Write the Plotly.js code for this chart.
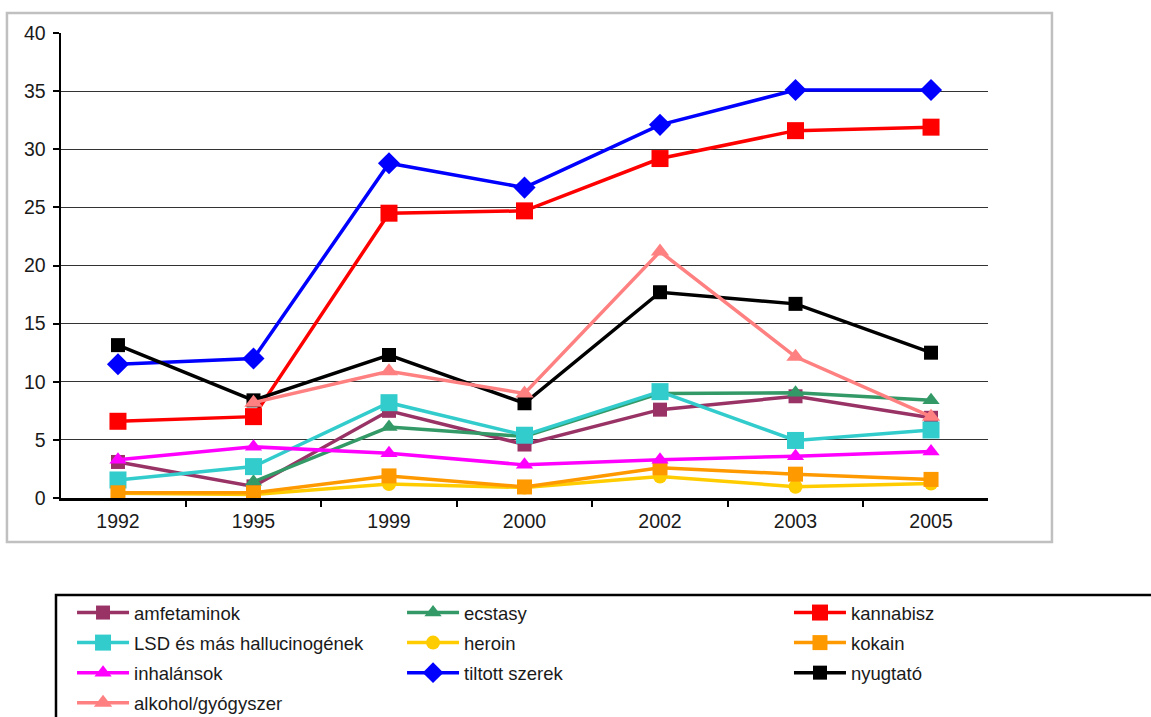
<!DOCTYPE html>
<html>
<head>
<meta charset="utf-8">
<script src="https://cdn.plot.ly/plotly-3.0.1.min.js"></script>
<style>html,body{margin:0;padding:0;background:#fff;}#chart{width:1151px;height:717px;}</style>
</head>
<body>
<div id="chart"></div>
<script>
var years = ['1992', '1995', '1999', '2000', '2002', '2003', '2005'];
var amfetaminok = [3.1, 1.0, 7.5, 4.6, 7.6, 8.75, 6.9];
var ecstasy = [null, 1.4, 6.1, 5.3, 9.0, 9.05, 8.4];
var kannabisz = [6.6, 7.0, 24.5, 24.7, 29.2, 31.6, 31.9];
var lsd = [1.55, 2.7, 8.2, 5.4, 9.15, 4.95, 5.85];
var heroin = [0.4, 0.3, 1.2, 0.9, 1.85, 0.97, 1.25];
var kokain = [0.45, 0.45, 1.9, 0.95, 2.6, 2.05, 1.6];
var inhalansok = [3.3, 4.4, 3.85, 2.85, 3.3, 3.6, 4.0];
var tiltott = [11.5, 12.0, 28.8, 26.7, 32.1, 35.1, 35.1];
var nyugtato = [13.15, 8.4, 12.3, 8.15, 17.7, 16.7, 12.5];
var alkohol = [null, 8.2, 10.9, 9.0, 21.2, 12.15, 7.0];

var seriesNames = ['amfetaminok', 'ecstasy', 'kannabisz', 'LSD és más hallucinogének', 'heroin', 'kokain', 'inhalánsok', 'tiltott szerek', 'nyugtató', 'alkohol/gyógyszer'];
var seriesValues = [amfetaminok, ecstasy, kannabisz, lsd, heroin, kokain, inhalansok, tiltott, nyugtato, alkohol];
var seriesColors = ['#993366', '#339966', '#FF0000', '#33CCCC', '#FFCC00', '#FF9900', '#FF00FF', '#0000FF', '#000000', '#FF8080'];
var seriesSymbols = ['square', 'triangle-up', 'square', 'square', 'circle', 'square', 'triangle-up', 'diamond', 'square', 'triangle-up'];
var seriesSizes = [14, 15, 17, 17, 14, 15, 15, 17, 14, 16];
var seriesLegend = ['legend', 'legend2', 'legend3', 'legend', 'legend2', 'legend3', 'legend', 'legend2', 'legend3', 'legend'];

var traces = seriesNames.map(function (name, i) {
  return {
    type: 'scatter',
    mode: 'lines+markers',
    x: years,
    y: seriesValues[i],
    name: name,
    legend: seriesLegend[i],
    legendgroup: 'g' + i,
    line: {color: seriesColors[i], width: 3.5},
    marker: {color: seriesColors[i], symbol: seriesSymbols[i], size: seriesSizes[i]},
    connectgaps: false
  };
});

var font = {family: '"Liberation Sans", Arial, sans-serif', color: '#1a1a1a'};
var legendBase = {
  orientation: 'v', xref: 'paper', yref: 'paper', xanchor: 'left', yanchor: 'top',
  y: -0.2065, bgcolor: 'rgba(0,0,0,0)', borderwidth: 0, itemwidth: 52, tracegroupgap: 3,
  font: {family: font.family, size: 18.5, color: '#1a1a1a'}
};
function lg(x) { var o = Object.assign({}, legendBase); o.x = x; return o; }

var layout = {
  width: 1151, height: 717,
  margin: {l: 61, r: 163, t: 33, b: 219, autoexpand: false},
  paper_bgcolor: '#ffffff', plot_bgcolor: '#ffffff',
  font: {family: font.family, size: 19, color: font.color},
  showlegend: true,
  legend: lg(0.0119),
  legend2: lg(0.3679),
  legend3: lg(0.7853),
  xaxis: {
    type: 'category', tickson: 'boundaries', ticks: 'outside', ticklen: 6, tickwidth: 2, tickcolor: '#000',
    showline: true, linecolor: '#000', linewidth: 2.5, showgrid: false, zeroline: false,
    tickfont: {size: 19.5}, ticklabelstandoff: 4
  },
  yaxis: {
    range: [0, 40], dtick: 5, ticks: 'outside', ticklen: 6, tickwidth: 2, tickcolor: '#000',
    showline: true, linecolor: '#000', linewidth: 2.5, showgrid: true, gridcolor: '#333333', gridwidth: 1.2,
    zeroline: false, tickfont: {size: 19.5}, ticklabelstandoff: 3
  },
  shapes: [
    {type: 'rect', xref: 'paper', yref: 'paper', x0: -0.0583, x1: 1.069, y0: -0.0946, y1: 1.043,
     line: {color: '#c0c0c0', width: 2.5}, fillcolor: 'rgba(0,0,0,0)', layer: 'below'},
    {type: 'rect', xref: 'paper', yref: 'paper', x0: -0.0054, x1: 1.25, y0: -0.2086, y1: -0.6,
     line: {color: '#000000', width: 2.5}, fillcolor: 'rgba(0,0,0,0)', layer: 'below'}
  ]
};

Plotly.newPlot('chart', traces, layout, {displayModeBar: false, staticPlot: true});
</script>
</body>
</html>
